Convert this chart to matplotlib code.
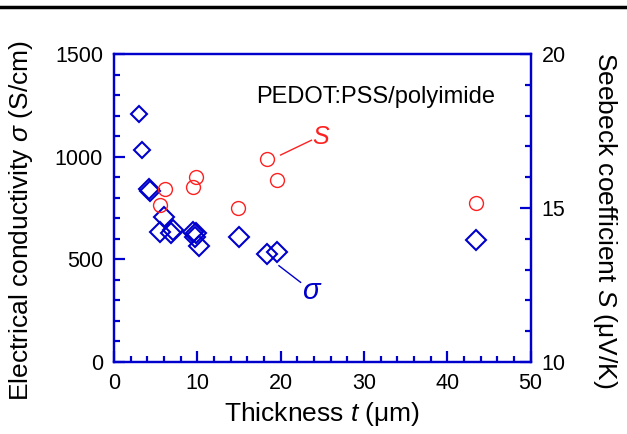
import matplotlib
matplotlib.use("Agg")
from matplotlib import pyplot as plt
from matplotlib.lines import Line2D
from matplotlib.ticker import MultipleLocator

plt.rcParams['font.family'] = ['Liberation Sans', 'DejaVu Sans']
plt.rcParams['mathtext.fontset'] = 'custom'
plt.rcParams['mathtext.rm'] = 'Liberation Sans'
plt.rcParams['mathtext.it'] = 'Liberation Sans:italic'

blue = '#0000CC'
red = '#FF2020'

# conductivity (left axis)
t_sigma = [3.0, 3.4, 4.2, 4.3, 6.0, 5.5, 7.1, 6.9, 9.5, 9.9, 9.7, 10.2, 15.0, 18.4, 19.6, 43.4]
sigma = [1208, 1031, 841, 833, 705, 635, 643, 627, 635, 630, 610, 566, 607, 526, 534, 594]

# Seebeck coefficient (right axis)
t_S = [6.1, 5.5, 9.8, 9.5, 14.9, 18.4, 19.6, 43.4]
S = [15.61, 15.11, 16.0, 15.69, 15.01, 16.59, 15.91, 15.17]

fig = plt.figure(figsize=(6.27, 4.34), dpi=100)
ax = fig.add_axes([0.1818, 0.1659, 0.6643, 0.7097])
ax2 = ax.twinx()

ax.plot(t_sigma[:2], sigma[:2], linestyle='none', marker='D', markersize=8,
        markerfacecolor='none', markeredgecolor=blue, markeredgewidth=1.5, zorder=3)
ax.plot(t_sigma[2:], sigma[2:], linestyle='none', marker='D', markersize=10.5,
        markerfacecolor='none', markeredgecolor=blue, markeredgewidth=1.5, zorder=3)
ax2.plot(t_S, S, linestyle='none', marker='o', markersize=10,
         markerfacecolor='none', markeredgecolor=red, markeredgewidth=1.0)

ax.set_xlim(0, 50)
ax.set_ylim(0, 1500)
ax2.set_ylim(10, 20)

ax.xaxis.set_major_locator(MultipleLocator(10))
ax.xaxis.set_minor_locator(MultipleLocator(2))
ax.yaxis.set_major_locator(MultipleLocator(500))
ax.yaxis.set_minor_locator(MultipleLocator(100))
ax2.yaxis.set_major_locator(MultipleLocator(5))
ax2.yaxis.set_minor_locator(MultipleLocator(1))

for a in (ax, ax2):
    for sp in a.spines.values():
        sp.set_color(blue)
        sp.set_linewidth(1.6)
    a.tick_params(which='both', direction='in', color=blue, width=1.6,
                  labelsize=15.5, pad=8)
    a.tick_params(which='major', length=8)
    a.tick_params(which='minor', length=4)
ax.tick_params(top=False, right=False)

ax.set_xlabel('Thickness $t$ (\u03bcm)', fontsize=19, labelpad=4)
ax.set_ylabel('Electrical conductivity $\\sigma$ (S/cm)', fontsize=19)
ax2.set_ylabel('Seebeck coefficient $S$ (\u03bcV/K)', fontsize=19, rotation=270)
ax.yaxis.set_label_coords(-0.19, 0.46)
ax2.yaxis.set_label_coords(1.213, 0.46)

ax.text(31.4, 1290, 'PEDOT:PSS/polyimide', fontsize=17, ha='center', va='center')

ax.plot([20.0, 23.7], [1008, 1080], color=red, linewidth=1.0)
ax.text(24.9, 1097, '$S$', color=red, fontsize=18, ha='center', va='center')
ax.plot([19.8, 22.4], [469, 388], color=blue, linewidth=1.0)
ax.text(23.8, 345, '$\\sigma$', color=blue, fontsize=21, ha='center', va='center')

fig.add_artist(Line2D([0, 1], [0.984, 0.984], color='black', linewidth=2.5,
                      transform=fig.transFigure))

fig.savefig('out.png', dpi=100)
